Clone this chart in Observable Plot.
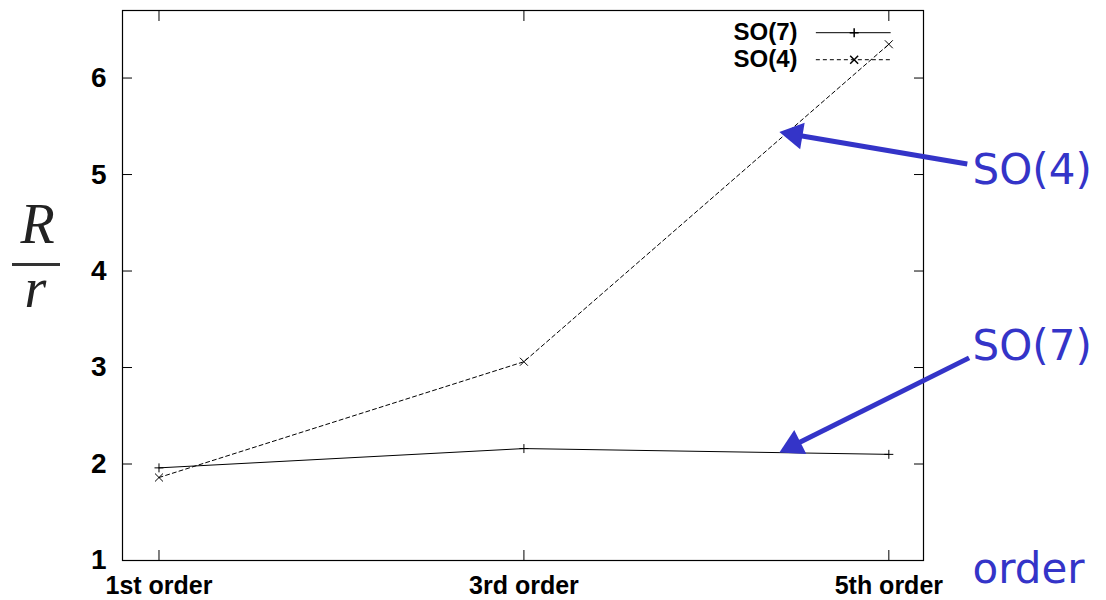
<!DOCTYPE html>
<html><head><meta charset="utf-8">
<script src="https://cdn.jsdelivr.net/npm/d3@7"></script>
<script src="https://cdn.jsdelivr.net/npm/@observablehq/plot@0.6"></script>
<style>body{margin:0;background:#fff}</style>
</head><body><div id="chart"></div>
<script>
// ---- data ----
const orderPos = [1, 3, 5];
const orderLabels = ["1st order", "3rd order", "5th order"];
const so7 = [1.96, 2.16, 2.10];
const so4 = [1.86, 3.06, 6.35];
const yTicks = [1, 2, 3, 4, 5, 6];
const seriesNames = ["SO(7)", "SO(4)"];
const annoLabels = ["SO(4)", "SO(7)"];

// ---- layout ----
const W = 1106, H = 600, mL = 122, mR = 183, mT = 10, mB = 40;
const xDomain = [0.8, 5.19], yDomain = [1, 6.7];
const xs = d3.scaleLinear(xDomain, [mL, W - mR]);
const ys = d3.scaleLinear(yDomain, [H - mB, mT]);
const BLUE = "#3434c8";

const rows = orderPos.flatMap((x, i) => [
  {x, y: so7[i], s: seriesNames[0]},
  {x, y: so4[i], s: seriesNames[1]}
]);

// legend (data units)
const legend = [
  {name: seriesNames[0], y: 6.47},
  {name: seriesNames[1], y: 6.19}
];
const legX = {text: 4.50, x1: 4.60, x2: 5.01, mark: 4.81};

// annotations (data units)
const annoText = [
  {t: annoLabels[0], x: 5.459, y: 5.04},
  {t: annoLabels[1], x: 5.459, y: 3.22},
  {t: "order", x: 5.459, y: 0.907}
];
const arrows = [
  {x1: 5.43, y1: 5.11, x2: 4.40, y2: 5.44},
  {x1: 5.44, y1: 3.10, x2: 4.40, y2: 2.12}
];
const headSide = 27;
const headH = headSide * Math.sqrt(3) / 2;
const arrowGeom = arrows.map(a => {
  const p0 = [xs(a.x1), ys(a.y1)], p1 = [xs(a.x2), ys(a.y2)];
  const dx = p1[0] - p0[0], dy = p1[1] - p0[1], L = Math.hypot(dx, dy);
  const ux = dx / L, uy = dy / L;
  const off = 2 * headH / 3;
  const c = [p1[0] - ux * off, p1[1] - uy * off];
  return {x1: a.x1, y1: a.y1, cx: xs.invert(c[0]), cy: ys.invert(c[1]),
          rot: Math.atan2(ux, -uy) * 180 / Math.PI};
});
const triR = Math.sqrt((headH / 3) ** 2 * Math.sqrt(3) * 3 / Math.PI);

const fracBar = {y: ys.invert(264), x1: xs.invert(12), x2: xs.invert(60)};

const sans = "Liberation Sans, Arial, Helvetica, sans-serif";
const serif = "Liberation Serif, DejaVu Serif, serif";

const plot = Plot.plot({
  width: W, height: H,
  marginLeft: mL, marginRight: mR, marginTop: mT, marginBottom: mB,
  x: {domain: xDomain},
  y: {domain: yDomain},
  style: {background: "white", overflow: "visible"},
  marks: [
    Plot.frame({stroke: "black", strokeWidth: 1.2}),
    Plot.axisY({anchor: "left", ticks: yTicks, tickSize: -10, tickPadding: 26, tickFormat: d3.format("d"),
      fontSize: 28, fontWeight: "bold", fontFamily: sans, label: null, stroke: "black"}),
    Plot.axisY({anchor: "right", ticks: yTicks, tickSize: -10, tickFormat: () => "", label: null}),
    Plot.axisX({anchor: "bottom", ticks: orderPos, tickSize: -10, tickPadding: 26,
      tickFormat: d => orderLabels[orderPos.indexOf(d)],
      fontSize: 25, fontWeight: "bold", fontFamily: sans, label: null}),
    Plot.axisX({anchor: "top", ticks: orderPos, tickSize: -10, tickFormat: () => "", label: null}),
    // series
    Plot.line(rows.filter(d => d.s === seriesNames[0]), {x: "x", y: "y", stroke: "black", strokeWidth: 1}),
    Plot.line(rows.filter(d => d.s === seriesNames[1]), {x: "x", y: "y", stroke: "black", strokeWidth: 1, strokeDasharray: "4,3"}),
    Plot.dot(rows.filter(d => d.s === seriesNames[0]), {x: "x", y: "y", symbol: "plus", r: 3, stroke: "black", strokeWidth: 1}),
    Plot.dot(rows.filter(d => d.s === seriesNames[1]), {x: "x", y: "y", symbol: "times", r: 3.7, stroke: "black", strokeWidth: 1}),
    // legend
    Plot.text(legend, {x: () => legX.text, y: "y", text: "name", textAnchor: "end", fontSize: 24, fontWeight: "bold", fontFamily: sans, fill: "black"}),
    Plot.link(legend.slice(0, 1), {x1: () => legX.x1, x2: () => legX.x2, y1: "y", y2: "y", stroke: "black", strokeWidth: 1}),
    Plot.link(legend.slice(1), {x1: () => legX.x1, x2: () => legX.x2, y1: "y", y2: "y", stroke: "black", strokeWidth: 1, strokeDasharray: "4,3"}),
    Plot.dot(legend.slice(0, 1), {x: () => legX.mark, y: "y", symbol: "plus", r: 3, stroke: "black"}),
    Plot.dot(legend.slice(1), {x: () => legX.mark, y: "y", symbol: "times", r: 3.7, stroke: "black"}),
    // y label R / r
    Plot.text(["R"], {frameAnchor: "left", textAnchor: "middle", dx: -85, dy: -60, fontSize: 56, fontStyle: "italic", fontFamily: serif, fill: "#222"}),
    Plot.text(["r"], {frameAnchor: "left", textAnchor: "middle", dx: -87, dy: 4, fontSize: 56, fontStyle: "italic", fontFamily: serif, fill: "#222"}),
    Plot.ruleY([fracBar], {y: "y", x1: "x1", x2: "x2", stroke: "#333", strokeWidth: 3, clip: false}),
    // annotations
    Plot.link(arrowGeom, {x1: "x1", y1: "y1", x2: "cx", y2: "cy", stroke: BLUE, strokeWidth: 5, clip: false}),
    Plot.dot(arrowGeom, {x: "cx", y: "cy", symbol: "triangle", r: triR, rotate: "rot", fill: BLUE, stroke: "none", clip: false}),
    Plot.text(annoText, {x: "x", y: "y", text: "t", textAnchor: "start", fontSize: 42, fontFamily: "DejaVu Sans, sans-serif", fill: BLUE, clip: false})
  ]
});
document.getElementById("chart").append(plot);
</script>
</body></html>
